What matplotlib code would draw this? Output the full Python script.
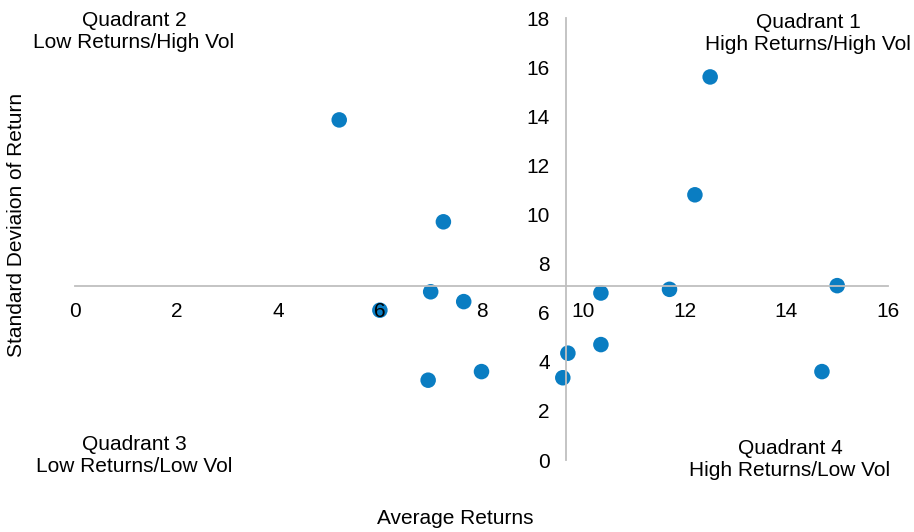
import matplotlib
matplotlib.use('Agg')
import matplotlib.pyplot as plt

plt.rcParams['font.family'] = ['Liberation Sans', 'DejaVu Sans']

# average returns vs standard deviation of return
avg_ret = [12.5, 5.2, 12.2, 7.25, 7.0, 7.65, 6.0, 10.35, 11.7, 15.0,
           9.7, 10.35, 6.95, 8.0, 9.6, 14.7]
std_ret = [15.6, 13.85, 10.8, 9.7, 6.85, 6.45, 6.1, 6.8, 6.95, 7.1,
           4.35, 4.7, 3.25, 3.6, 3.35, 3.6]

x_cross = 9.67
y_cross = 7.1
xticks = list(range(0, 17, 2))
yticks = list(range(0, 19, 2))

W, H = 914, 532
fig = plt.figure(figsize=(W / 100, H / 100), dpi=100)
ax = fig.add_axes([75 / W, 1 - 460 / H, (888 - 75) / W, (460 - 18) / H])

ax.scatter(avg_ret, std_ret, s=125, color='#0a7dc2', edgecolors='none', zorder=1)

ax.set_xlim(0, 16)
ax.set_ylim(0, 18)
ax.set_xticks(xticks)
ax.set_yticks(yticks)
for s in ['top', 'right']:
    ax.spines[s].set_visible(False)
ax.spines['left'].set_position(('data', x_cross))
ax.spines['bottom'].set_position(('data', y_cross))
for s in ['left', 'bottom']:
    ax.spines[s].set_color('#bfbfbf')
    ax.spines[s].set_linewidth(1.3)
ax.tick_params(axis='both', length=0, labelsize=15, colors='black')
ax.tick_params(axis='x', pad=12)
ax.tick_params(axis='y', pad=12)


def ftext(px, py, s, **kw):
    fig.text(px / W, 1 - py / H, s, ha='center', va='center', fontsize=15, **kw)


ftext(134, 32, 'Quadrant 2\nLow Returns/High Vol')
ftext(808, 33, 'Quadrant 1\nHigh Returns/High Vol')
ftext(134, 455, 'Quadrant 3\nLow Returns/Low Vol')
ftext(790, 460, 'Quadrant 4\nHigh Returns/Low Vol')
ftext(455, 518, 'Average Returns')
ftext(17, 225, 'Standard Deviaion of Return', rotation=90)

fig.savefig('out.png', dpi=100)
